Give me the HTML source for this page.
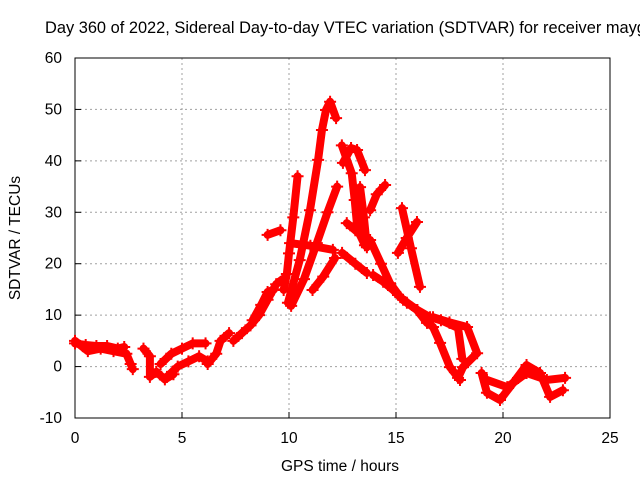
<!DOCTYPE html>
<html><head><meta charset="utf-8"><style>
body{margin:0;background:#fff}
svg text{font-family:"Liberation Sans",sans-serif;font-size:15.5px;fill:#000}
</style></head><body>
<svg id="chart" width="640" height="480" viewBox="0 0 640 480" xmlns="http://www.w3.org/2000/svg">
<rect width="640" height="480" fill="#fff"/>
<g id="grid"></g>
<g id="axes"></g>
<g id="series"></g>
<text x="45" y="33" style="font-size:16.4px">Day 360 of 2022, Sidereal Day-to-day VTEC variation (SDTVAR) for receiver maygg</text>
<text x="340" y="471" text-anchor="middle">GPS time / hours</text>
<text transform="translate(20,238) rotate(-90)" text-anchor="middle">SDTVAR / TECUs</text>
</svg>
<script>
const xTicks=[0,5,10,15,20,25];
const yTicks=[-10,0,10,20,30,40,50,60];
// each track: array of [hour, value]
const track1=[[0,4.5],[0.5,4.2],[1,4],[1.5,4],[2,3.5],[2.3,3.8]];
const track2=[[0,5],[0.6,3],[1.2,3.5],[1.8,3],[2.4,2.5],[2.6,0.5],[2.7,-0.5]];
const track3=[[3.2,3.5],[3.5,2],[3.5,-2],[3.8,-1],[4.2,-2.5],[4.6,-1.5]];
const track4=[[4.0,0.5],[4.5,2.5],[5,3.5],[5.5,4.5],[6.1,4.5]];
const track5=[[4.3,-2],[4.8,0],[5.3,1],[5.8,2],[6.2,1]];
const track6=[[6.2,0.5],[6.6,2.5],[6.8,5],[7.2,6.5]];
const track7=[[7.4,5],[7.8,6.5],[8.2,8],[8.6,10],[9.0,13],[9.4,16],[9.7,17]];
const track8=[[8.3,9],[8.7,12],[9.0,14.5],[9.3,15]];
const track9=[[9.95,12.4],[10.5,20.7],[10.98,30.4],[11.36,40.2],[11.54,46],[11.73,49.9],[11.92,51.5],[12.2,48.3]];
const track10=[[9.75,14.9],[9.9,18],[10.0,22],[10.2,29],[10.4,37]];
const track11=[[10.1,11.8],[10.7,17],[11.3,24],[11.8,30],[12.25,35]];
const track12=[[11.1,14.9],[11.6,17.5],[12.15,21.1]];
const track13=[[10.05,24],[11,23.5],[12.05,22.7]];
const track14=[[9.0,25.6],[9.6,26.5]];
const track15=[[12.47,43],[12.93,37.6],[13.07,32.4],[13.2,26.6],[13.55,23.6]];
const track16=[[12.52,39.6],[12.9,42.5],[13.18,42.1],[13.55,38.2]];
const track17=[[13.32,34.9],[13.5,29],[13.64,23.2]];
const track18=[[13.79,30.4],[14.1,33.5],[14.49,35.3]];
const track19=[[12.48,22.1],[13.1,20],[13.64,18.2]];
const track20=[[12.7,27.9],[13.1,26.5],[13.46,25.2]];
const track21=[[13.79,24.6],[14.3,20],[14.72,16.2],[15.2,13.5],[15.51,12.4],[15.98,11],[16.45,8.5],[16.73,7.7],[17.06,4.6],[17.52,-0.1],[17.99,-2.6]];
const track22=[[15.28,30.8],[15.7,23],[16.12,15.5]];
const track23=[[15.09,22.1],[15.5,25],[15.98,28.1]];
const track24=[[13.93,17.8],[14.4,16.5],[14.86,14.9],[15.33,13],[16.0,11],[16.59,9.6],[17.5,8.5]];
const track25=[[16.73,9.6],[17.5,8.6],[18.32,7.7],[18.79,2.6],[18.13,-0.1],[17.9,-2.2]];
const track26=[[17.1,9],[17.9,7.5],[18.1,1.5]];
const track27=[[19.0,-1.25],[19.25,-5.1],[19.86,-6.5],[20.47,-3.2],[21.1,0.3],[21.73,-1.25],[22.2,-5.9],[22.8,-4.6]];
const track28=[[19.25,-2.6],[20.2,-4],[21.1,-1.25],[22.05,-2.6],[22.9,-2.2]];
const tracks=[track1,track2,track3,track4,track5,track6,track7,track8,track9,track10,track11,track12,track13,track14,track15,track16,track17,track18,track19,track20,track21,track22,track23,track24,track25,track26,track27,track28];

const X0=75,X1=610,Y0=418,Y1=58;
const xs=v=>X0+(v-0)/(25-0)*(X1-X0);
const ys=v=>Y0-(v+10)/(70)*(Y0-Y1);
const NS='http://www.w3.org/2000/svg';
function mk(tag,attrs,parent){const e=document.createElementNS(NS,tag);for(const k in attrs)e.setAttribute(k,attrs[k]);parent.appendChild(e);return e;}
const grid=document.getElementById('grid'),axes=document.getElementById('axes'),ser=document.getElementById('series');
xTicks.forEach(t=>{
  const x=xs(t);
  if(t>0&&t<25){const l=mk('line',{x1:x,x2:x,y1:Y1,y2:Y0,stroke:'#a0a0a0','stroke-dasharray':'2,3'},grid);
  
  }
  const tk=mk('line',{x1:x,x2:x,y1:Y0,y2:Y0-6,stroke:'#000'},axes);
  
  
  const tx=mk('text',{x:x,y:443,'text-anchor':'middle'},axes);tx.textContent=t;
  
  
});
yTicks.forEach(t=>{
  const y=ys(t);
  if(t>-10&&t<60){const l=mk('line',{x1:X0,x2:X1,y1:y,y2:y,stroke:'#a0a0a0','stroke-dasharray':'2,3'},grid);
  
  }
  const tk=mk('line',{x1:X0,x2:X0+6,y1:y,y2:y,stroke:'#000'},axes);
  
  
  const tx=mk('text',{x:62,y:y+5,'text-anchor':'end'},axes);tx.textContent=t;
  
  
});
const border=mk('rect',{x:X0,y:Y1,width:X1-X0,height:Y0-Y1,fill:'none',stroke:'#000'},axes);


tracks.forEach(tr=>{
  const pl=mk('polyline',{points:tr.map(p=>xs(p[0])+','+ys(p[1])).join(' '),fill:'none',stroke:'#f00','stroke-width':8,'stroke-linejoin':'round','stroke-linecap':'round'},ser);
  
  
  tr.forEach(p=>{
    const x=xs(p[0]),y=ys(p[1]);
    const m=mk('path',{d:`M${x-6},${y}H${x+6}M${x},${y-6}V${y+6}`,stroke:'#f00','stroke-width':2},ser);
    
    
  });
});
</script>
</body></html>
